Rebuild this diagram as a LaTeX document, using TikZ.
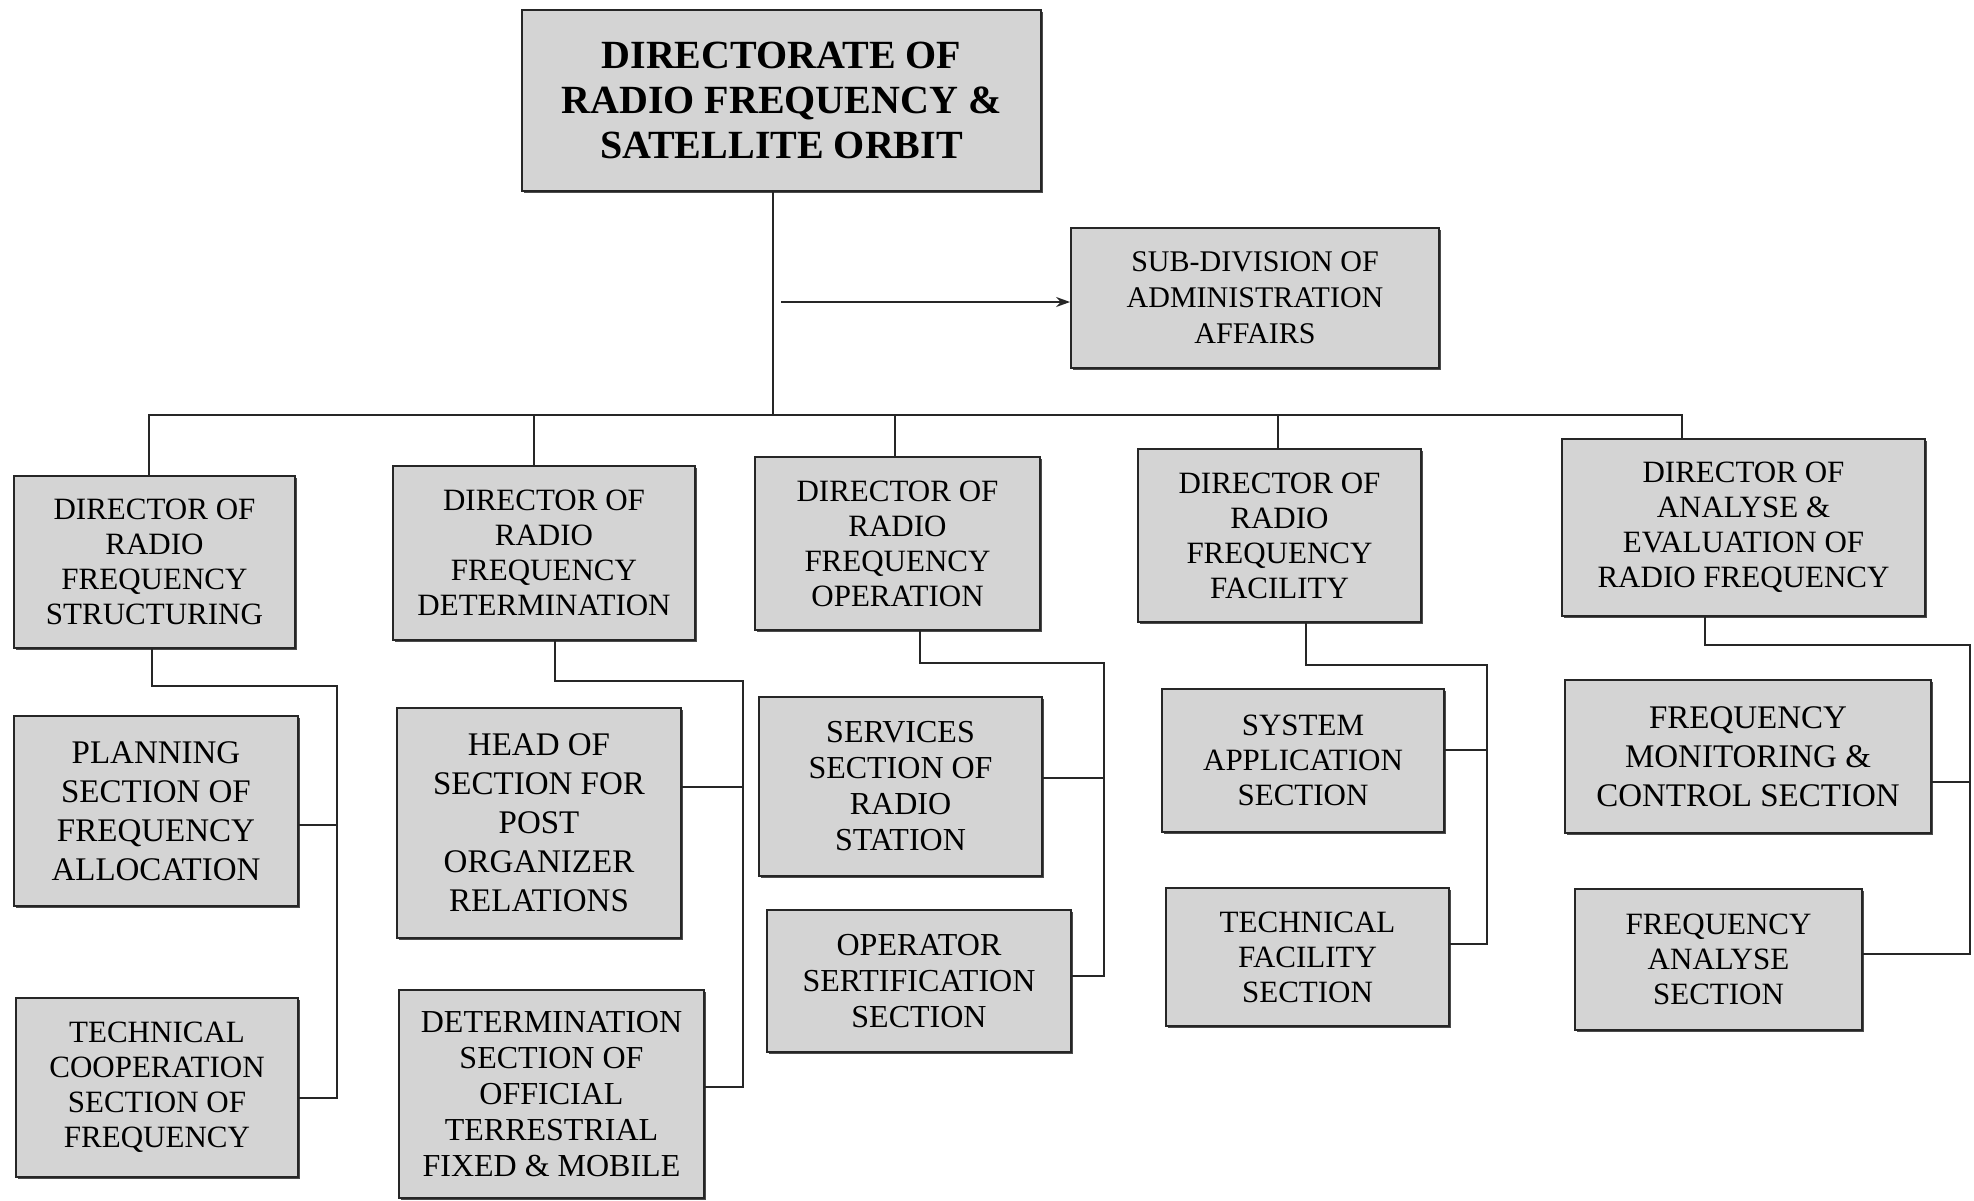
\documentclass[tikz,border=0pt]{standalone}
\usepackage{fontspec}
\setmainfont{Liberation Serif}
\usetikzlibrary{arrows.meta,shadows}
\begin{document}
\begin{tikzpicture}[x=0.5pt,y=-0.5pt,
  box/.style={draw=black!85, line width=0.9pt, fill=black!17, align=center,
    inner sep=0pt, font=\fontsize{15.5}{17.5}\selectfont,
    general shadow={fill=black!70, shadow xshift=1pt, shadow yshift=-1pt}},
  tall/.style={font=\fontsize{16.5}{19.5}\selectfont},
  mid/.style={font=\fontsize{16}{18}\selectfont},
  link/.style={draw=black!85, line width=0.9pt},
]
\useasboundingbox (0,0) rectangle (1974,1200);

% head of the chart and administration sub-division
\node[box, minimum width=259.5pt, minimum height=90.5pt,
  font=\bfseries\fontsize{20}{22.5}\selectfont] (top) at (781.5,100.5)
  {DIRECTORATE OF\\RADIO FREQUENCY \&\\SATELLITE ORBIT};
\node[box, minimum width=184pt, minimum height=70pt, font=\fontsize{15}{18}\selectfont] (sub) at (1255,298)
  {SUB-DIVISION OF\\ADMINISTRATION\\AFFAIRS};

% directors
\node[box, minimum width=140.5pt, minimum height=86pt] (d1) at (154.5,562)
  {DIRECTOR OF\\RADIO\\FREQUENCY\\STRUCTURING};
\node[box, minimum width=151pt, minimum height=87pt] (d2) at (544,553)
  {DIRECTOR OF\\RADIO\\FREQUENCY\\DETERMINATION};
\node[box, minimum width=142.5pt, minimum height=86.5pt] (d3) at (897.5,543.5)
  {DIRECTOR OF\\RADIO\\FREQUENCY\\OPERATION};
\node[box, minimum width=141.5pt, minimum height=86.5pt] (d4) at (1279.5,535.5)
  {DIRECTOR OF\\RADIO\\FREQUENCY\\FACILITY};
\node[box, minimum width=181.5pt, minimum height=88.5pt] (d5) at (1743.5,527.5)
  {DIRECTOR OF\\ANALYSE \&\\EVALUATION OF\\RADIO FREQUENCY};

% sections
\node[box, tall, minimum width=142pt, minimum height=95pt] (p1) at (156,811)
  {PLANNING\\SECTION OF\\FREQUENCY\\ALLOCATION};
\node[box, minimum width=141pt, minimum height=89.5pt] (t1) at (157,1087.5)
  {TECHNICAL\\COOPERATION\\SECTION OF\\FREQUENCY};
\node[box, tall, minimum width=142pt, minimum height=115pt] (h2) at (539,823)
  {HEAD OF\\SECTION FOR\\POST\\ORGANIZER\\RELATIONS};
\node[box, mid, minimum width=152.5pt, minimum height=104pt] (ds2) at (551.5,1094)
  {DETERMINATION\\SECTION OF\\OFFICIAL\\TERRESTRIAL\\FIXED \& MOBILE};
\node[box, mid, minimum width=141.5pt, minimum height=89.5pt] (s3) at (900.5,786.5)
  {SERVICES\\SECTION OF\\RADIO\\STATION};
\node[box, mid, minimum width=152pt, minimum height=71pt] (os3) at (919,981)
  {OPERATOR\\SERTIFICATION\\SECTION};
\node[box, minimum width=141pt, minimum height=71.5pt] (sa4) at (1303,760.5)
  {SYSTEM\\APPLICATION\\SECTION};
\node[box, minimum width=141.5pt, minimum height=69pt] (tf4) at (1307.5,957)
  {TECHNICAL\\FACILITY\\SECTION};
\node[box, tall, minimum width=183pt, minimum height=76.5pt] (fm5) at (1748,756.5)
  {FREQUENCY\\MONITORING \&\\CONTROL SECTION};
\node[box, minimum width=143.5pt, minimum height=70.5pt] (fa5) at (1718.5,959.5)
  {FREQUENCY\\ANALYSE\\SECTION};

% trunk, bus and drops to the directors
\coordinate (c0) at (773,415);
\coordinate (b1) at (149,415);
\coordinate (b2) at (534,415);
\coordinate (b3) at (895,415);
\coordinate (b4) at (1278,415);
\coordinate (b5) at (1682,415);
\draw[link] (top.south -| c0) -- (c0);
\draw[link, -{Stealth[length=7pt,width=5pt]}] (781,302) coordinate (a0) -- (a0 -| sub.west);
\draw[link] (d1.north -| b1) |- (b5) -- (d5.north -| b5);
\draw[link] (b2) -- (d2.north -| b2);
\draw[link] (b3) -- (d3.north -| b3);
\draw[link] (b4) -- (d4.north -| b4);

% elbows from each director down to its sections
\coordinate (k1) at (152,0);   \coordinate (e1) at (337,686);
\coordinate (k2) at (555,0);   \coordinate (e2) at (743,681);
\coordinate (k3) at (920,0);   \coordinate (e3) at (1104,663);
\coordinate (k4) at (1306,0);  \coordinate (e4) at (1487,665);
\coordinate (k5) at (1705,0);  \coordinate (e5) at (1970,645);

\coordinate (j1a) at (337,825);  \coordinate (j1b) at (337,1098);
\coordinate (j2a) at (743,787);  \coordinate (j2b) at (743,1087);
\coordinate (j3a) at (1104,778); \coordinate (j3b) at (1104,976);
\coordinate (j4a) at (1487,750); \coordinate (j4b) at (1487,944);
\coordinate (j5a) at (1970,782); \coordinate (j5b) at (1970,954);

\draw[link] (d1.south -| k1) |- (e1) -- (j1b) -- (j1b -| t1.east);
\draw[link] (j1a) -- (j1a -| p1.east);
\draw[link] (d2.south -| k2) |- (e2) -- (j2b) -- (j2b -| ds2.east);
\draw[link] (j2a) -- (j2a -| h2.east);
\draw[link] (d3.south -| k3) |- (e3) -- (j3b) -- (j3b -| os3.east);
\draw[link] (j3a) -- (j3a -| s3.east);
\draw[link] (d4.south -| k4) |- (e4) -- (j4b) -- (j4b -| tf4.east);
\draw[link] (j4a) -- (j4a -| sa4.east);
\draw[link] (d5.south -| k5) |- (e5) -- (j5b) -- (j5b -| fa5.east);
\draw[link] (j5a) -- (j5a -| fm5.east);
\end{tikzpicture}
\end{document}
